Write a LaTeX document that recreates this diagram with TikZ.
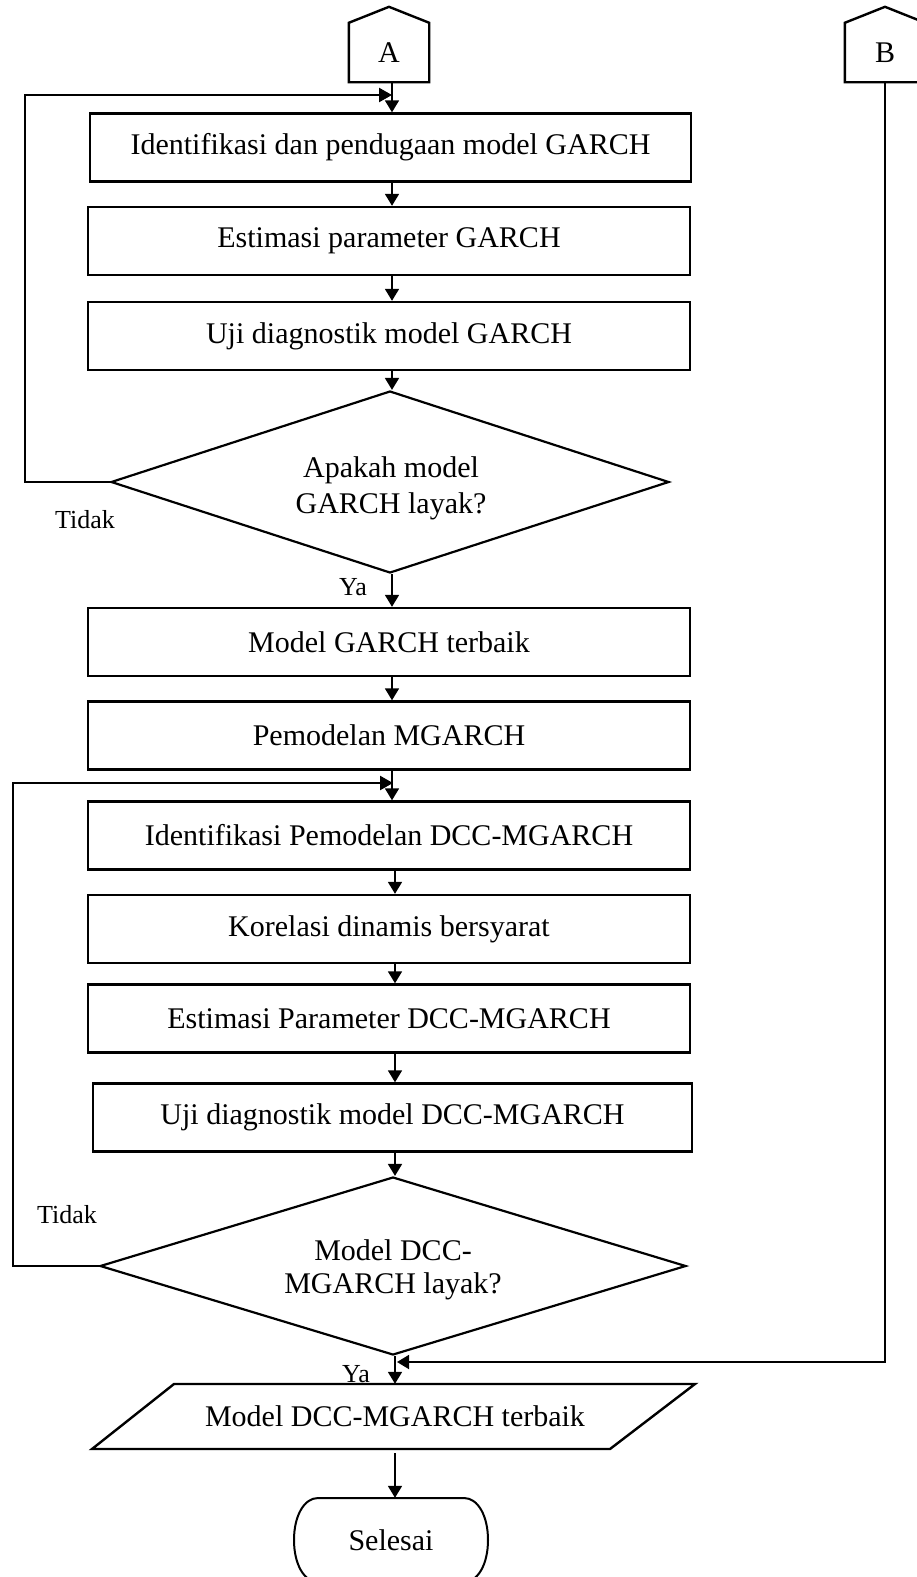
\documentclass[tikz,border=0pt]{standalone}
\usepackage{fontspec}
\setmainfont{Liberation Serif}
\usetikzlibrary{arrows.meta,shapes.geometric}
\begin{document}
\begin{tikzpicture}[x=1pt,y=-1pt,
  every node/.style={font=\fontsize{30}{36}\selectfont, text=black},
  procbox/.style={draw, line width=2.4pt, minimum width=602pt, minimum height=68pt, inner sep=0pt},
  decbox/.style={draw, diamond, aspect=3, line width=2.2pt, inner sep=0pt},
  plainbox/.style={inner sep=0pt},
  dectext/.style={inner sep=0pt, align=center},
  arr/.style={line width=1.8pt, -{Triangle[length=12pt,width=14pt]}},
  loopline/.style={line width=2.4pt, -{Triangle[length=13pt,width=14pt]}},
  shapeline/.style={line width=2.4pt, line join=miter},
  lbl/.style={font=\fontsize{26}{30}\selectfont}]
\useasboundingbox (0,0) rectangle (916,1577);

% column coordinates
\coordinate (cx) at (392,0);
\coordinate (cy) at (395,0);

% connectors A and B
\node[plainbox, minimum width=80pt, minimum height=59pt] (A) at (389,52.5) {A};
\draw[shapeline] (A.south west) -- (A.north west) -- ([yshift=16pt]A.north) -- (A.north east) -- (A.south east) -- cycle;
\node[plainbox, minimum width=80pt, minimum height=59pt] (B) at (885,52.5) {B};
\draw[shapeline] (B.south west) -- (B.north west) -- ([yshift=16pt]B.north) -- (B.north east) -- (B.south east) -- cycle;

% process boxes
\node[procbox, minimum width=601pt] (b1) at (390.5,147.5) {Identifikasi dan pendugaan model GARCH};
\node[procbox] (b2) at (389,241) {Estimasi parameter GARCH};
\node[procbox] (b3) at (389,336) {Uji diagnostik model GARCH};
\node[decbox, minimum width=558pt, minimum height=182pt] (d1) at (390,482) {};
\node[dectext] (d1t) at (391,488) {Apakah model\\GARCH layak?};
\node[procbox] (b4) at (389,642) {Model GARCH terbaik};
\node[procbox] (b5) at (389,735.5) {Pemodelan MGARCH};
\node[procbox] (b6) at (389,835.5) {Identifikasi Pemodelan DCC-MGARCH};
\node[procbox] (b7) at (389,929) {Korelasi dinamis bersyarat};
\node[procbox] (b8) at (389,1018.5) {Estimasi Parameter DCC-MGARCH};
\node[procbox, minimum width=599pt] (b9) at (392.5,1117.5) {Uji diagnostik model DCC-MGARCH};
\node[decbox, minimum width=586pt, minimum height=178pt] (d2) at (393,1266) {};
\node[dectext, font=\fontsize{30}{33}\selectfont] (d2t) at (393,1270) {Model DCC-\\MGARCH layak?};

% output parallelogram
\node[plainbox, minimum height=65pt] (out) at (395,1416.5) {Model DCC-MGARCH terbaik};
\draw[shapeline] (174,1384) -- (695,1384) -- (610,1449) -- (92,1449) -- cycle;

% terminal
\node[plainbox, minimum width=194pt, minimum height=84pt] (end) at (391,1540) {Selesai};
\draw[line width=2pt] (318,1498) -- (464,1498) .. controls (478,1498) and (488,1516) .. (488,1540) .. controls (488,1564) and (478,1582) .. (464,1582) -- (318,1582) .. controls (304,1582) and (294,1564) .. (294,1540) .. controls (294,1516) and (304,1498) .. (318,1498) -- cycle;

% labels
\node[lbl] (t1) at (85,520) {Tidak};
\node[lbl] (y1) at (353,587) {Ya};
\node[lbl] (t2) at (67,1215) {Tidak};
\node[lbl] (y2) at (356,1374) {Ya};

% junction coordinates
\coordinate (j1) at (392,95);
\coordinate (l1) at (25,482);
\coordinate (j2) at (393,783);
\coordinate (l2) at (13,1266);
\coordinate (j3) at (397,1362);

% arrows
\draw[arr] (A.south -| cx) -- (b1.north -| cx);
\draw[arr] (b1.south -| cx) -- (b2.north -| cx);
\draw[arr] (b2.south -| cx) -- (b3.north -| cx);
\draw[arr] (b3.south -| cx) -- (d1.north -| cx);
\draw[arr] (d1.south -| cx) -- (b4.north -| cx);
\draw[arr] (b4.south -| cx) -- (b5.north -| cx);
\draw[arr] (b5.south -| cx) -- (b6.north -| cx);
\draw[arr] (b6.south -| cy) -- (b7.north -| cy);
\draw[arr] (b7.south -| cy) -- (b8.north -| cy);
\draw[arr] (b8.south -| cy) -- (b9.north -| cy);
\draw[arr] (b9.south -| cy) -- (d2.north -| cy);
\draw[arr] (d2.south -| cy) -- (out.north -| cy);
\draw[arr, shorten <=4pt] (out.south -| cy) -- (end.north -| cy);

% loops
\draw[loopline] (d1.west) -- (l1) |- (j1);
\draw[loopline] (d2.west) -- (l2) |- (j2);
\draw[arr] (B.south) -- (B.south |- j3) -- (j3);
\end{tikzpicture}
\end{document}
